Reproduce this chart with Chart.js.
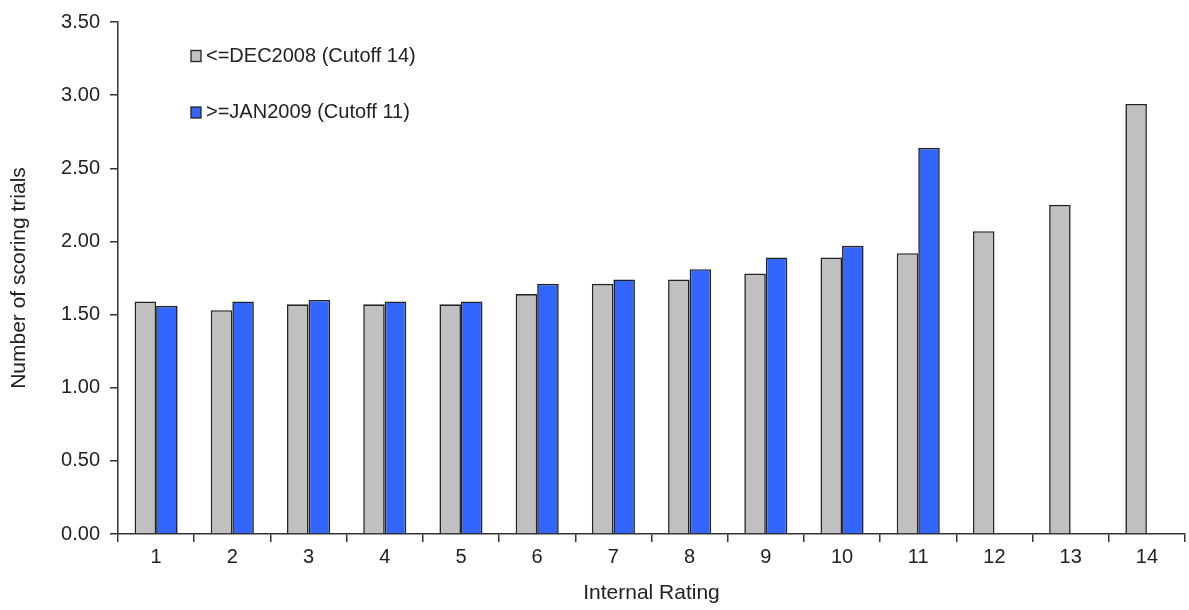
<!DOCTYPE html>
<html>
<head>
<meta charset="utf-8">
<script src="https://cdn.jsdelivr.net/npm/chart.js@4.4.1/dist/chart.umd.min.js"></script>
<style>
  html, body { margin: 0; padding: 0; background: #fff; }
  #wrap { width: 1189px; height: 610px; position: relative; }
</style>
</head>
<body>
<div id="wrap"><canvas id="chart"></canvas></div>
<script>
const ratings = ['1', '2', '3', '4', '5', '6', '7', '8', '9', '10', '11', '12', '13', '14'];
const dec2008 = [1.59, 1.53, 1.57, 1.57, 1.57, 1.64, 1.71, 1.74, 1.78, 1.89, 1.92, 2.07, 2.25, 2.94];
const jan2009 = [1.56, 1.59, 1.60, 1.59, 1.59, 1.71, 1.74, 1.81, 1.89, 1.97, 2.64, null, null, null];
const seriesNames = ['<=DEC2008 (Cutoff 14)', '>=JAN2009 (Cutoff 11)'];

const fontFamily = '"Liberation Sans", Arial, sans-serif';
const axisColor = '#333333';
const textColor = '#222222';

// legend drawn inside the plot area, top-left, one item per line
const innerLegend = {
    id: 'innerLegend',
    afterDraw(chart) {
        const ctx = chart.ctx;
        const items = [{ x: 191, y: 56 }, { x: 191, y: 112.5 }];
        ctx.save();
        ctx.font = `20px ${fontFamily}`;
        ctx.textBaseline = 'middle';
        chart.data.datasets.forEach((ds, i) => {
            const p = items[i];
            ctx.fillStyle = ds.backgroundColor;
            ctx.strokeStyle = '#222';
            ctx.lineWidth = 1.3;
            ctx.fillRect(p.x, p.y - 5.5, 10, 11);
            ctx.strokeRect(p.x, p.y - 5.5, 10, 11);
            ctx.fillStyle = textColor;
            ctx.fillText(ds.label, p.x + 15, p.y);
        });
        ctx.restore();
    }
};

new Chart(document.getElementById('chart'), {
    type: 'bar',
    data: {
        labels: ratings,
        datasets: [
            {
                label: seriesNames[0],
                data: dec2008,
                backgroundColor: '#C0C0C0',
                borderColor: '#222222',
                borderWidth: 1.6,
                borderSkipped: 'bottom'
            },
            {
                label: seriesNames[1],
                data: jan2009,
                backgroundColor: '#3366FF',
                borderColor: '#222222',
                borderWidth: 1.6,
                borderSkipped: 'bottom'
            }
        ]
    },
    options: {
        responsive: true,
        maintainAspectRatio: false,
        animation: false,
        categoryPercentage: 0.565,
        barPercentage: 1.0,
        layout: { padding: { top: 14, right: 4, left: 0, bottom: 0 } },
        plugins: {
            legend: { display: false },
            tooltip: { enabled: false }
        },
        scales: {
            x: {
                offset: true,
                grid: {
                    offset: true,
                    drawOnChartArea: false,
                    drawTicks: true,
                    tickLength: 8,
                    color: axisColor,
                    lineWidth: 1.5
                },
                border: { display: true, color: axisColor, width: 1.5 },
                ticks: { color: textColor, font: { family: fontFamily, size: 20 }, padding: 3 },
                title: {
                    display: true,
                    text: 'Internal Rating',
                    color: textColor,
                    font: { family: fontFamily, size: 21 },
                    padding: { top: 6 }
                },
                afterFit(scale) { scale.height = 76; }
            },
            y: {
                min: 0,
                max: 3.5,
                grid: {
                    drawOnChartArea: false,
                    drawTicks: true,
                    tickLength: 8,
                    color: axisColor,
                    lineWidth: 1.5
                },
                border: { display: true, color: axisColor, width: 1.5 },
                ticks: {
                    stepSize: 0.5,
                    color: textColor,
                    font: { family: fontFamily, size: 20 },
                    padding: 10,
                    callback: (v) => Number(v).toFixed(2)
                },
                title: {
                    display: true,
                    text: 'Number of scoring trials',
                    color: textColor,
                    font: { family: fontFamily, size: 21 },
                    padding: { top: 7, bottom: 4 }
                },
                afterFit(scale) { scale.width = 118; }
            }
        }
    },
    plugins: [innerLegend]
});
</script>
</body>
</html>
